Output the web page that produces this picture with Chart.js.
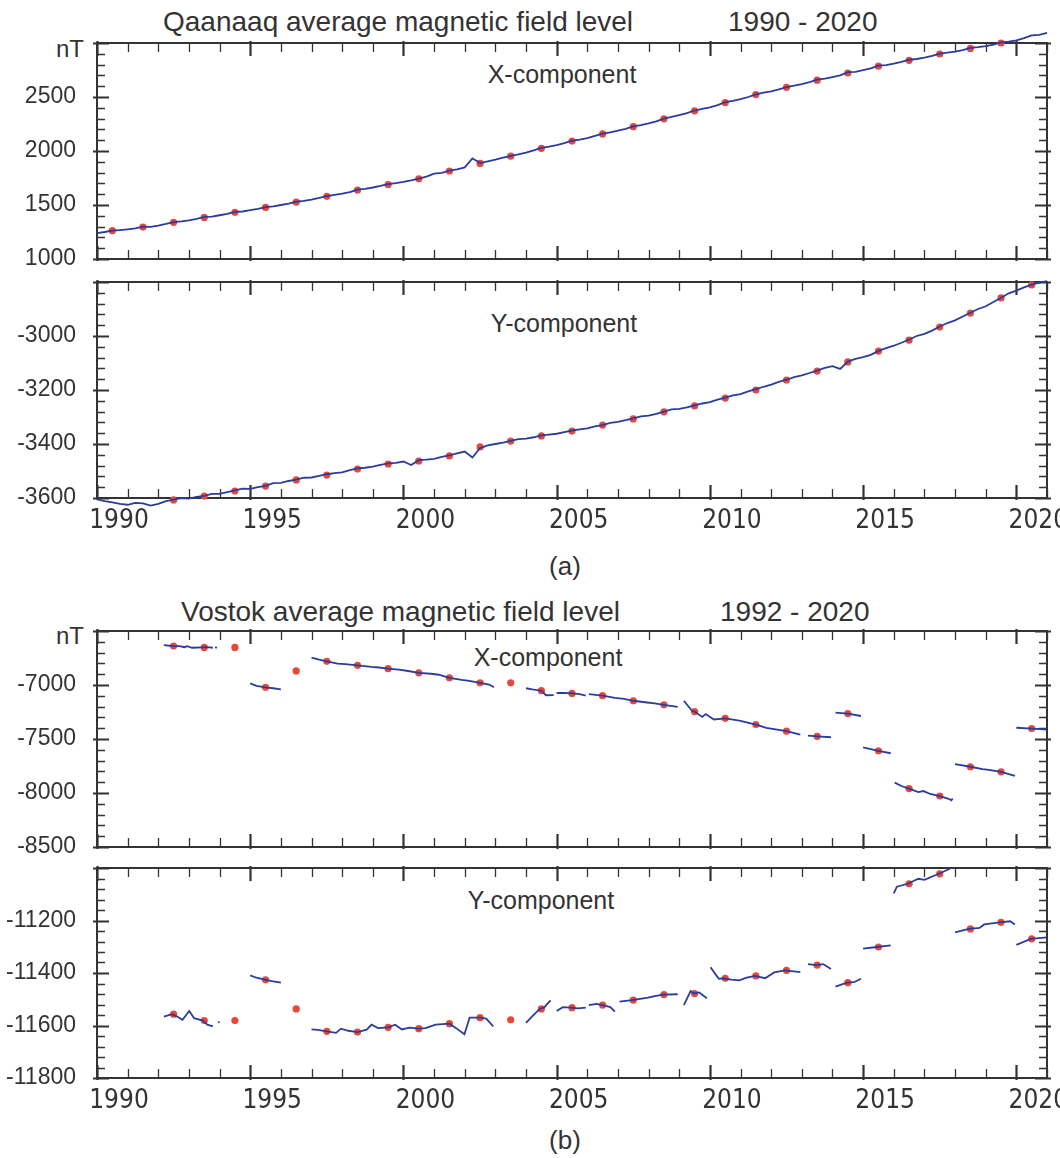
<!DOCTYPE html>
<html>
<head>
<meta charset="utf-8">
<title>Qaanaaq and Vostok average magnetic field level</title>
<script src="https://cdn.jsdelivr.net/npm/chart.js@4.4.0/dist/chart.umd.min.js"></script>
<style>
  body { margin: 0; background: #fff; }
  #page { position: relative; width: 1060px; height: 1158px; overflow: hidden;
          font-family: "Liberation Sans", Arial, sans-serif; color: #333; }
  canvas { position: absolute; left: 0; }
  .txt { position: absolute; white-space: nowrap; line-height: 1; transform: translateY(-50%); }
  .mid { transform: translate(-50%, -50%); }
  .right { transform: translate(-100%, -50%); }
</style>
</head>
<body>
<div id="page">
  <div class="txt" style="left:163px; top:22px; font-size:28px;">Qaanaaq average magnetic field level</div>
  <div class="txt" style="left:728px; top:22px; font-size:28px;">1990 - 2020</div>
  <div class="txt right" style="left:84px; top:49px; font-size:24px;">nT</div>
  <div class="txt mid" style="left:562px; top:74px; font-size:25px;">X-component</div>
  <div class="txt mid" style="left:564px; top:323px; font-size:25px;">Y-component</div>
  <div class="txt mid" style="left:565px; top:566px; font-size:26px;">(a)</div>

  <div class="txt" style="left:181px; top:612px; font-size:28px;">Vostok average magnetic field level</div>
  <div class="txt" style="left:720px; top:612px; font-size:28px;">1992 - 2020</div>
  <div class="txt right" style="left:84px; top:636px; font-size:24px;">nT</div>
  <div class="txt mid" style="left:548px; top:657px; font-size:25px;">X-component</div>
  <div class="txt mid" style="left:541px; top:900px; font-size:25px;">Y-component</div>
  <div class="txt mid" style="left:565px; top:1140px; font-size:26px;">(b)</div>

  <canvas id="qx" width="1060" height="262" style="top:13px"></canvas>
  <canvas id="qy" width="1060" height="276" style="top:262px"></canvas>
  <canvas id="vx" width="1060" height="262" style="top:601px"></canvas>
  <canvas id="vy" width="1060" height="270" style="top:848px"></canvas>
</div>
<script>
const blue = "#2b3c9b";
const red = "#e8473a";
const axisColor = "#333";
const narrow = '"Liberation Sans Narrow", "DejaVu Sans Condensed", "Liberation Sans", sans-serif';
const regular = '"Liberation Sans", Arial, sans-serif';

const yearLabels = [1990, 1995, 2000, 2005, 2010, 2015, 2020];

// Qaanaaq: annual means (red dots, plotted mid-year)
const qYears = [1990, 1991, 1992, 1993, 1994, 1995, 1996, 1997, 1998, 1999, 2000,
  2001, 2002, 2003, 2004, 2005, 2006, 2007, 2008, 2009, 2010,
  2011, 2012, 2013, 2014, 2015, 2016, 2017, 2018, 2019, 2020];
const qxAnnual = [1262, 1296, 1340, 1385, 1432, 1478, 1527, 1580, 1638, 1690, 1742,
  1815, 1885, 1952, 2025, 2092, 2158, 2225, 2298, 2372, 2448,
  2522, 2590, 2656, 2722, 2785, 2840, 2898, 2950, 3000, 3065];
const qyAnnual = [-3615, -3619, -3607, -3593, -3574, -3556, -3533, -3515, -3493, -3474, -3463,
  -3444, -3411, -3389, -3370, -3352, -3330, -3307, -3281, -3259, -3230,
  -3200, -3163, -3130, -3096, -3056, -3015, -2967, -2915, -2859, -2811];

// Qaanaaq: quarterly readings of the monthly curve, from 1990.0 every 0.25 yr
const qStart = 1990;
const qStep = 0.25;
const qxQuarterly = [
  1240, 1250, 1262, 1268,  1275, 1283, 1300, 1298,  1310, 1325, 1342, 1348,
  1358, 1372, 1390, 1392,  1405, 1418, 1436, 1440,  1452, 1465, 1480, 1488,
  1500, 1513, 1530, 1538,  1550, 1565, 1582, 1594,  1605, 1620, 1642, 1650,
  1662, 1676, 1694, 1702,  1714, 1728, 1745, 1762,  1790, 1798, 1818, 1830,
  1848, 1932, 1888, 1905,  1920, 1938, 1955, 1968,  1985, 2005, 2028, 2040,
  2055, 2072, 2095, 2105,  2120, 2140, 2160, 2172,  2188, 2205, 2228, 2240,
  2255, 2275, 2300, 2315,  2332, 2350, 2375, 2390,  2405, 2425, 2452, 2465,
  2480, 2500, 2525, 2540,  2552, 2570, 2592, 2605,  2620, 2638, 2660, 2670,
  2685, 2700, 2730, 2732,  2748, 2765, 2790, 2795,  2808, 2825, 2845, 2852,
  2865, 2880, 2902, 2910,  2920, 2935, 2955, 2962,  2972, 2985, 3005, 3012,
  3025, 3045, 3070, 3075,  3093];
const qyQuarterly = [
  -3605, -3612, -3616, -3622,  -3625, -3618, -3620, -3628,  -3622, -3612, -3606, -3600,
  -3602, -3596, -3592, -3585,  -3585, -3578, -3572, -3565,  -3566, -3560, -3555, -3545,
  -3544, -3537, -3532, -3525,  -3524, -3518, -3512, -3508,  -3505, -3497, -3490, -3488,
  -3484, -3477, -3472, -3470,  -3465, -3478, -3460, -3458,  -3455, -3448, -3442, -3435,
  -3428, -3450, -3415, -3405,  -3400, -3395, -3388, -3382,  -3380, -3375, -3368, -3365,
  -3362, -3356, -3350, -3346,  -3342, -3335, -3330, -3322,  -3318, -3312, -3305, -3298,
  -3295, -3288, -3280, -3272,  -3270, -3264, -3257, -3250,  -3245, -3236, -3228, -3220,
  -3215, -3205, -3197, -3188,  -3180, -3170, -3162, -3152,  -3146, -3137, -3128, -3118,
  -3112, -3122, -3095, -3085,  -3078, -3070, -3055, -3045,  -3036, -3025, -3013, -3000,
  -2992, -2980, -2965, -2952,  -2942, -2928, -2914, -2900,  -2890, -2874, -2858, -2842,
  -2832, -2820, -2810, -2802,  -2797];

// Vostok: annual means (red dots, plotted mid-year)
const vYears = [1992, 1993, 1994, 1995, 1996, 1997, 1998, 1999, 2000,
  2001, 2002, 2003, 2004, 2005, 2006, 2007, 2008, 2009, 2010,
  2011, 2012, 2013, 2014, 2015, 2016, 2017, 2018, 2019, 2020];
const vxAnnual = [-6639, -6652, -6652, -7021, -6870, -6781, -6818, -6849, -6887,
  -6933, -6980, -6980, -7053, -7078, -7099, -7146, -7184, -7246, -7309,
  -7366, -7428, -7475, -7265, -7609, -7959, -8028, -7757, -7804, -7403];
const vyAnnual = [-11557, -11581, -11581, -11426, -11537, -11622, -11625, -11607, -11612,
  -11593, -11570, -11578, -11537, -11532, -11522, -11503, -11482, -11478, -11420,
  -11411, -11390, -11370, -11437, -11301, -11060, -11022, -11232, -11207, -11270];

// Vostok: monthly curve read as [year, nT]; null marks a data gap
const vxLine = [
  [1992.18, -6630], [1992.45, -6639], [1992.7, -6640], [1992.85, -6650], [1992.95, -6640],
  [1993.1, -6655], [1993.45, -6652], [1993.6, -6650], [1993.78, -6655], null,
  [1993.85, -6652], [1993.92, -6653], null,
  [1995.0, -6985], [1995.2, -7008], [1995.5, -7021], [1995.75, -7030], [1996.0, -7040], null,
  [1997.0, -6746], [1997.25, -6765], [1997.5, -6781], [1997.85, -6803], [1998.1, -6806],
  [1998.5, -6818], [1998.95, -6833], [1999.2, -6838], [1999.5, -6849], [1999.85, -6858],
  [2000.1, -6868], [2000.5, -6887], [2000.9, -6896], [2001.15, -6905], [2001.5, -6933],
  [2001.9, -6953], [2002.1, -6960], [2002.5, -6980], [2002.8, -6996], [2002.95, -7021], null,
  [2004.0, -7030], [2004.2, -7040], [2004.5, -7053], [2004.65, -7095], [2004.9, -7093], null,
  [2005.0, -7074], [2005.25, -7074], [2005.5, -7078], [2005.75, -7085], [2005.95, -7099], null,
  [2006.05, -7085], [2006.5, -7099], [2006.9, -7120], [2007.2, -7128], [2007.5, -7146],
  [2007.95, -7162], [2008.2, -7170], [2008.5, -7184], [2008.95, -7203], null,
  [2009.15, -7146], [2009.42, -7241], [2009.5, -7246], [2009.75, -7296], [2009.86, -7269],
  [2010.13, -7319], [2010.5, -7309], [2010.96, -7330], [2011.5, -7366], [2011.84, -7396],
  [2012.5, -7428], [2012.95, -7459], null,
  [2013.2, -7469], [2013.5, -7475], [2013.95, -7484], null,
  [2014.1, -7256], [2014.5, -7265], [2014.93, -7287], null,
  [2015.0, -7578], [2015.5, -7609], [2015.9, -7632], null,
  [2016.03, -7904], [2016.25, -7935], [2016.5, -7959], [2016.8, -7991], [2016.97, -7982],
  [2017.19, -8009], [2017.5, -8028], [2017.79, -8054], [2017.88, -8068], [2017.92, -8050], null,
  [2018.0, -7732], [2018.5, -7757], [2018.9, -7778], [2019.1, -7785], [2019.5, -7804],
  [2019.95, -7841], null,
  [2020.0, -7396], [2020.5, -7403], [2021.0, -7412]];
const vyLine = [
  [1992.18, -11566], [1992.45, -11557], [1992.6, -11565], [1992.79, -11578], [1993.01, -11545],
  [1993.17, -11572], [1993.45, -11581], [1993.6, -11597], [1993.78, -11603], null,
  [1993.95, -11588], [1994.0, -11586], null,
  [1995.0, -11409], [1995.2, -11418], [1995.5, -11426], [1995.75, -11432], [1996.0, -11437], null,
  [1997.0, -11615], [1997.2, -11617], [1997.5, -11622], [1997.8, -11628], [1997.96, -11612],
  [1998.2, -11620], [1998.5, -11625], [1998.8, -11616], [1998.96, -11597], [1999.17, -11610],
  [1999.5, -11607], [1999.73, -11597], [1999.95, -11615], [2000.2, -11608], [2000.5, -11612],
  [2000.72, -11610], [2001.05, -11597], [2001.5, -11593], [2001.72, -11610], [2001.99, -11633],
  [2002.16, -11570], [2002.5, -11570], [2002.7, -11574], [2002.93, -11603], null,
  [2004.0, -11590], [2004.2, -11565], [2004.45, -11537], [2004.6, -11530], [2004.8, -11504], null,
  [2005.0, -11545], [2005.2, -11530], [2005.46, -11532], [2005.7, -11535], [2005.95, -11532], null,
  [2006.05, -11522], [2006.3, -11518], [2006.5, -11522], [2006.75, -11530], [2006.9, -11547], null,
  [2007.05, -11509], [2007.46, -11503], [2007.98, -11494], [2008.2, -11488], [2008.47, -11482],
  [2008.95, -11481], null,
  [2009.15, -11522], [2009.37, -11469], [2009.48, -11478], [2009.65, -11474], [2009.9, -11496], null,
  [2010.02, -11378], [2010.29, -11422], [2010.42, -11420], [2010.7, -11425], [2010.96, -11428],
  [2011.2, -11418], [2011.47, -11411], [2011.8, -11420], [2012.1, -11398], [2012.45, -11390],
  [2012.95, -11397], null,
  [2013.2, -11366], [2013.46, -11370], [2013.7, -11366], [2013.95, -11385], null,
  [2014.1, -11452], [2014.47, -11437], [2014.7, -11435], [2014.93, -11422], null,
  [2015.0, -11307], [2015.45, -11301], [2015.9, -11295], null,
  [2016.0, -11097], [2016.1, -11071], [2016.46, -11060], [2016.8, -11041], [2017.0, -11045],
  [2017.47, -11022], [2017.83, -11003], null,
  [2018.0, -11245], [2018.45, -11232], [2018.8, -11228], [2018.95, -11215], [2019.46, -11207],
  [2019.8, -11203], [2019.95, -11215], null,
  [2020.0, -11293], [2020.47, -11270], [2021.0, -11264]];

// y-axis ranges and labelled values
const qxRange = [1000, 3000], qxTicks = [1000, 1500, 2000, 2500];
const qyRange = [-3600, -2800], qyTicks = [-3600, -3400, -3200, -3000];
const vxRange = [-8500, -6500], vxTicks = [-8500, -8000, -7500, -7000];
const vyRange = [-11800, -11000], vyTicks = [-11800, -11600, -11400, -11200];

function pairPoints(pairs) {
  const pts = [];
  pairs.forEach(p => {
    if (p === null) pts.push({ x: pts[pts.length - 1].x, y: null });
    else pts.push({ x: p[0], y: p[1] });
  });
  return pts;
}

// box with inward tick marks, like the original plot frame
const framePlugin = {
  id: "frame",
  beforeDatasetsDraw(chart, args, opts) {
    const { ctx, chartArea: a } = chart;
    const x = chart.scales.x, y = chart.scales.y;
    ctx.save();
    ctx.strokeStyle = axisColor;
    for (let yr = x.min; yr <= x.max; yr++) {
      const px = Math.round(x.getPixelForValue(yr)) + 0.5;
      const major = yr % 5 === 0;
      const len = major ? 13 : 9;
      ctx.lineWidth = major ? 2.2 : 1.3;
      ctx.beginPath();
      ctx.moveTo(px, a.bottom + (major ? 2 : 0));
      ctx.lineTo(px, a.bottom - len);
      ctx.moveTo(px, a.top - (major ? 2 : 0));
      ctx.lineTo(px, a.top + len);
      ctx.stroke();
    }
    const n = Math.round((y.max - y.min) / opts.minor);
    for (let i = 0; i <= n; i++) {
      const py = Math.round(y.getPixelForValue(y.min + i * opts.minor)) + 0.5;
      const major = i % 5 === 0;
      const len = major ? 12 : 8;
      ctx.lineWidth = major ? 2 : 1.3;
      ctx.beginPath();
      ctx.moveTo(a.left - (major ? 4 : 0), py);
      ctx.lineTo(a.left + len, py);
      ctx.moveTo(a.right + (major ? 4 : 0), py);
      ctx.lineTo(a.right - len, py);
      ctx.stroke();
    }
    ctx.lineWidth = 2;
    ctx.strokeRect(a.left, a.top, a.right - a.left, a.bottom - a.top);
    ctx.restore();
  }
};

function panel(id, line, dotYears, dots, range, yTicks, showYears, padTop, xHeight) {
  return new Chart(document.getElementById(id), {
    type: "scatter",
    data: {
      datasets: [
        {
          data: line,
          showLine: true,
          spanGaps: false,
          borderColor: blue,
          borderWidth: 1.8,
          pointRadius: 0,
          clip: false,
          order: 0,
        },
        {
          data: dotYears.map((yr, i) => ({ x: yr + 0.5, y: dots[i] })),
          pointRadius: 3.6,
          pointBackgroundColor: red,
          pointBorderWidth: 0,
          clip: false,
          order: 1,
        },
      ],
    },
    options: {
      responsive: false,
      animation: false,
      events: [],
      layout: { padding: { top: padTop, right: 13, left: 0, bottom: 0 } },
      plugins: {
        legend: { display: false },
        tooltip: { enabled: false },
        frame: { minor: (yTicks[1] - yTicks[0]) / 5 },
      },
      scales: {
        x: {
          type: "linear",
          min: 1990,
          max: 2021,
          grid: { display: false },
          border: { display: false },
          afterBuildTicks: s => { s.ticks = yearLabels.map(v => ({ value: v })); },
          afterFit: s => {
            s.height = xHeight;
            s.paddingLeft = 0;
            s.paddingRight = 0;
          },
          ticks: {
            display: showYears,
            labelOffset: 22,
            padding: 0,
            maxRotation: 0,
            autoSkip: false,
            color: axisColor,
            font: { family: narrow, size: 26 },
            callback: v => String(v),
          },
        },
        y: {
          min: range[0],
          max: range[1],
          grid: { display: false },
          border: { display: false },
          afterBuildTicks: s => { s.ticks = yTicks.map(v => ({ value: v })); },
          // fixed gutter; drop the label overhang padding so the plot box keeps its size
          afterFit: s => {
            s.width = 97;
            s.paddingTop = 0;
            s.paddingBottom = 0;
          },
          ticks: {
            padding: 13,
            color: axisColor,
            font: { family: regular, size: 23 },
            callback: v => String(v),
          },
        },
      },
    },
    plugins: [framePlugin],
  });
}

const qxLine = qxQuarterly.map((v, i) => ({ x: qStart + i * qStep, y: v }));
const qyLine = qyQuarterly.map((v, i) => ({ x: qStart + i * qStep, y: v }));

panel("qx", qxLine, qYears, qxAnnual, qxRange, qxTicks, false, 30, 16);
panel("qy", qyLine, qYears, qyAnnual, qyRange, qyTicks, true, 20, 40);
panel("vx", pairPoints(vxLine), vYears, vxAnnual, vxRange, vxTicks, false, 30, 16);
panel("vy", pairPoints(vyLine), vYears, vyAnnual, vyRange, vyTicks, true, 20, 40);
</script>
</body>
</html>
